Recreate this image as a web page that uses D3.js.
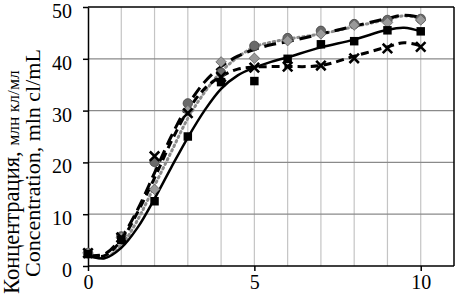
<!DOCTYPE html>
<html lang="en">
<head>
    <meta charset="UTF-8">
    <script src="https://d3js.org/d3.v7.min.js"></script>
    <title>Concentration</title>
    <style>
        body { margin: 0; background: #fff; }
        svg { display: block; }
        text { font-family: "Liberation Serif", "Times New Roman", serif; }
    </style>
</head>
<body>
    <svg width="456" height="296"></svg>

    <script>
        // measured points (day, concentration)
        const days = [0, 1, 2, 3, 4, 5, 6, 7, 8, 9, 10];
        const squares  = [2.3, 5.0, 12.5, 25.0, 35.5, 35.7, 40.0, 42.8, 43.4, 45.5, 45.3];
        const crosses  = [2.5, 5.5, 21.2, 29.5, 36.5, 38.3, 38.5, 38.7, 40.1, 42.0, 42.3];
        const diamonds = [2.5, 5.5, 14.8, 30.0, 39.4, 40.1, 43.5, 44.8, 46.5, 47.0, 47.5];
        const circles  = [2.5, 5.7, 20.1, 31.4, 37.3, 42.5, 44.0, 45.4, 46.7, 47.5, 47.7];

        // smoothed trend lines
        const trendX = [0, 0.5, 1, 1.5, 2, 2.5, 3, 3.5, 4, 4.5, 5, 5.5, 6, 7, 8, 9, 9.5, 10];
        const trendSolid  = [2.0, 1.5, 3.5, 7.5, 13.0, 19.0, 24.8, 30.0, 34.2, 36.8, 38.3, 39.4, 40.3, 42.2, 43.7, 45.6, 46.0, 45.3];
        const trendDash   = [2.0, 2.0, 5.0, 10.5, 17.0, 24.0, 30.0, 34.2, 36.6, 38.0, 38.4, 38.5, 38.5, 38.7, 40.5, 42.3, 43.1, 42.5];
        const trendLong   = [2.0, 2.3, 5.5, 11.0, 18.0, 25.0, 31.0, 35.5, 38.5, 40.5, 41.8, 42.7, 43.3, 44.8, 46.3, 47.8, 48.4, 48.0];
        const trendDotted = [2.0, 1.6, 4.0, 9.0, 15.5, 22.0, 28.5, 33.5, 37.5, 40.3, 42.3, 43.2, 43.8, 44.8, 46.2, 47.6, 48.3, 47.8];

        const yTicks = [0, 10, 20, 30, 40, 50];
        const xTicks = [0, 5, 10];

        const margin = { top: 7, right: 2, bottom: 30, left: 88 };
        const width = 456, height = 296;

        const svg = d3.select('svg');

        const x = d3.scaleLinear().domain([0, 11]).range([margin.left, width - margin.right]);
        const y = d3.scaleLinear().domain([0, 50]).range([height - margin.bottom, margin.top]);

        // grid
        svg.append('g').selectAll('line')
            .data(d3.range(1, 11))
            .enter().append('line')
            .attr('x1', d => x(d)).attr('x2', d => x(d))
            .attr('y1', y(0)).attr('y2', y(50))
            .attr('stroke', '#c4c4c4').attr('stroke-width', 1.2);

        svg.append('g').selectAll('line')
            .data([10, 20, 30, 40])
            .enter().append('line')
            .attr('x1', x(0)).attr('x2', x(11))
            .attr('y1', d => y(d)).attr('y2', d => y(d))
            .attr('stroke', '#8a8a8a').attr('stroke-width', 1.2);

        // frame top and right
        svg.append('line')
            .attr('x1', x(0)).attr('x2', x(11)).attr('y1', y(50)).attr('y2', y(50))
            .attr('stroke', '#000').attr('stroke-width', 1.5);
        svg.append('line')
            .attr('x1', x(11)).attr('x2', x(11)).attr('y1', y(0)).attr('y2', y(50))
            .attr('stroke', '#000').attr('stroke-width', 1.5);

        const xAxis = svg.append('g')
            .attr('transform', `translate(0, ${y(0)})`)
            .call(d3.axisBottom(x).tickValues(xTicks).tickSize(5).tickSizeOuter(0).tickPadding(4));
        const yAxis = svg.append('g')
            .attr('transform', `translate(${x(0)}, 0)`)
            .call(d3.axisLeft(y).tickValues(yTicks).tickSize(5).tickSizeOuter(0).tickPadding(11));

        [xAxis, yAxis].forEach(g => {
            g.selectAll('path, line').attr('stroke', '#000').attr('stroke-width', 1.5);
            g.selectAll('text')
                .attr('font-family', '"Liberation Serif", serif')
                .attr('font-size', 20)
                .attr('fill', '#000');
        });
        yAxis.selectAll('text').attr('dy', '0.52em');
        xAxis.select('.domain').attr('d', `M${x(0)},0H${x(11)}`);

        // trend lines
        const line = d3.line()
            .x((d, i) => x(trendX[i]))
            .y(d => y(d))
            .curve(d3.curveCatmullRom);

        svg.append('path').datum(trendDotted)
            .attr('d', line).attr('fill', 'none')
            .attr('stroke', '#8c8c8c').attr('stroke-width', 3)
            .attr('stroke-dasharray', '1.5,3.5').attr('stroke-linecap', 'round');
        svg.append('path').datum(trendLong)
            .attr('d', line).attr('fill', 'none')
            .attr('stroke', '#000').attr('stroke-width', 3)
            .attr('stroke-dasharray', '12,6');
        svg.append('path').datum(trendDash)
            .attr('d', line).attr('fill', 'none')
            .attr('stroke', '#000').attr('stroke-width', 3)
            .attr('stroke-dasharray', '8,5');
        svg.append('path').datum(trendSolid)
            .attr('d', line).attr('fill', 'none')
            .attr('stroke', '#000').attr('stroke-width', 2.5);

        // markers
        const sym = (type, size) => d3.symbol().type(type).size(size)();

        svg.append('g').selectAll('path')
            .data(circles)
            .enter().append('path')
            .attr('transform', (d, i) => `translate(${x(days[i])}, ${y(d)})`)
            .attr('d', sym(d3.symbolCircle, 70))
            .attr('fill', '#6a6a6a').attr('stroke', '#444').attr('stroke-width', 0.8);

        svg.append('g').selectAll('path')
            .data(diamonds)
            .enter().append('path')
            .attr('transform', (d, i) => `translate(${x(days[i])}, ${y(d)}) rotate(45)`)
            .attr('d', sym(d3.symbolSquare, 55))
            .attr('fill', '#9a9a9a').attr('stroke', '#666').attr('stroke-width', 0.8);

        svg.append('g').selectAll('path')
            .data(squares)
            .enter().append('path')
            .attr('transform', (d, i) => `translate(${x(days[i])}, ${y(d)})`)
            .attr('d', sym(d3.symbolSquare, 72))
            .attr('fill', '#000');

        svg.append('g').selectAll('path')
            .data(crosses)
            .enter().append('path')
            .attr('transform', (d, i) => `translate(${x(days[i])}, ${y(d)})`)
            .attr('d', sym(d3.symbolTimes, 60))
            .attr('fill', 'none').attr('stroke', '#000').attr('stroke-width', 2.6);

        // y axis title
        const t1 = svg.append('text')
            .attr('transform', 'translate(19, 294) rotate(-90)')
            .attr('text-anchor', 'start')
            .attr('font-size', 22.5);
        t1.append('tspan').text('Концентрация, ');
        t1.append('tspan').attr('font-size', 17.5).text('млн кл/мл');

        svg.append('text')
            .attr('transform', 'translate(40, 277) rotate(-90)')
            .attr('text-anchor', 'start')
            .attr('font-size', 22)
            .text('Concentration, mln cl/mL');
    </script>
</body>
</html>
